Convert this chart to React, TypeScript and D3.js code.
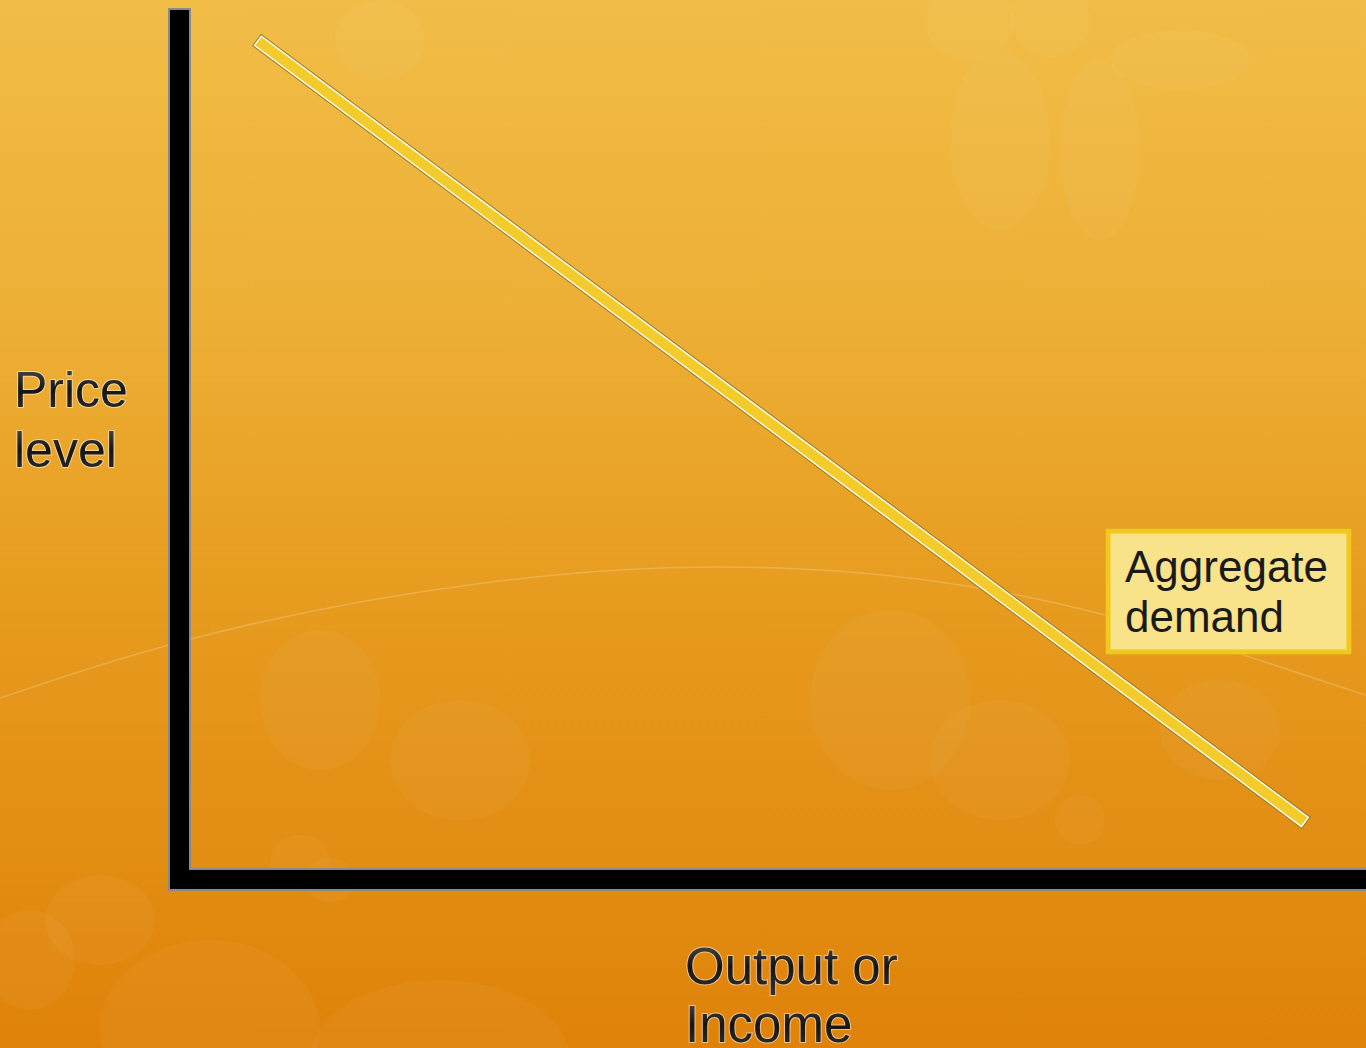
import React from "react";
import * as d3 from "d3";

// Aggregate demand curve: output (q) against price level (p), in axis units 0–10
const adQuantity = [0.7, 9.45];
const adPrice = [9.6, 0.7];

const yAxisLabel = ["Price", "level"];
const xAxisLabel = ["Output or", "Income"];
const curveLabel = ["Aggregate", "demand"];

const W = 1366;
const H = 1048;
const originX = 179.5;
const originY = 879.5;

// Faint decorative petals in the slide background
const petals = [
  { cx: 380, cy: 40, rx: 45, ry: 40 },
  { cx: 970, cy: 20, rx: 45, ry: 40 },
  { cx: 1050, cy: 20, rx: 40, ry: 38 },
  { cx: 1180, cy: 60, rx: 70, ry: 30 },
  { cx: 1000, cy: 140, rx: 50, ry: 90 },
  { cx: 1100, cy: 150, rx: 40, ry: 90 },
  { cx: 30, cy: 960, rx: 45, ry: 50 },
  { cx: 100, cy: 920, rx: 55, ry: 45 },
  { cx: 210, cy: 1030, rx: 110, ry: 90 },
  { cx: 440, cy: 1060, rx: 130, ry: 80 },
  { cx: 300, cy: 860, rx: 30, ry: 25 },
  { cx: 330, cy: 880, rx: 25, ry: 22 },
  { cx: 890, cy: 700, rx: 80, ry: 90 },
  { cx: 1000, cy: 760, rx: 70, ry: 60 },
  { cx: 320, cy: 700, rx: 60, ry: 70 },
  { cx: 460, cy: 760, rx: 70, ry: 60 },
  { cx: 1080, cy: 820, rx: 25, ry: 25 },
  { cx: 1220, cy: 730, rx: 60, ry: 50 },
];

export default function App() {
  const x = d3.scaleLinear().domain([0, 10]).range([originX, originX + 1186]);
  const y = d3.scaleLinear().domain([0, 10]).range([originY, originY - 870]);

  const pts: [number, number][] = adQuantity.map((q, i) => [x(q), y(adPrice[i])]);
  const adPath = d3.line()(pts) as string;

  const axisPath = `M${originX},8 L${originX},${originY} L${W + 20},${originY}`;

  const arc = d3.line().curve(d3.curveBasis)([
    [-20, 705],
    [200, 630],
    [500, 575],
    [760, 560],
    [1050, 590],
    [1380, 700],
  ]) as string;

  const labelText = {
    fontFamily: "'Liberation Sans', Arial, sans-serif",
    fill: "url(#metal)",
    stroke: "rgba(255,255,255,0.5)",
    strokeWidth: 2,
    paintOrder: "stroke",
  } as React.CSSProperties;

  return (
    <svg
      width={W}
      height={H}
      style={{ position: "absolute", left: 0, top: 0, display: "block" }}
    >
      <defs>
        <linearGradient id="bg" x1="0" y1="0" x2="0" y2="1">
          <stop offset="0" stopColor="#f1bd47" />
          <stop offset="0.3" stopColor="#edaf36" />
          <stop offset="0.55" stopColor="#e79d20" />
          <stop offset="1" stopColor="#df820a" />
        </linearGradient>
        <linearGradient id="metal" x1="0" y1="0" x2="0" y2="1">
          <stop offset="0" stopColor="#555" />
          <stop offset="0.5" stopColor="#151515" />
          <stop offset="1" stopColor="#333" />
        </linearGradient>
      </defs>

      <rect x={0} y={0} width={W} height={H} fill="url(#bg)" />
      {petals.map((p, i) => (
        <ellipse key={i} cx={p.cx} cy={p.cy} rx={p.rx} ry={p.ry} fill="#fff" opacity={0.035} />
      ))}
      <path d={arc} fill="none" stroke="#fff" strokeOpacity={0.2} strokeWidth={1.5} />

      {/* axes */}
      <path d={axisPath} fill="none" stroke="#8a8a8a" strokeWidth={23} strokeLinejoin="miter" />
      <path
        d={`M${originX},10 L${originX},${originY} L${W + 20},${originY}`}
        fill="none"
        stroke="#000"
        strokeWidth={19}
        strokeLinejoin="miter"
      />

      {/* aggregate demand curve */}
      <path d={adPath} fill="none" stroke="#9a7a2a" strokeWidth={15} strokeLinecap="square" />
      <path d={adPath} fill="none" stroke="#fffbe6" strokeWidth={13} strokeLinecap="square" />
      <path d={adPath} fill="none" stroke="#f3cb2a" strokeWidth={10} strokeLinecap="square" />

      {/* axis titles */}
      <g style={labelText} fontSize={50}>
        {yAxisLabel.map((t, i) => (
          <text key={t} x={14} y={407 + i * 60}>
            {t}
          </text>
        ))}
      </g>
      <g style={labelText} fontSize={51}>
        {xAxisLabel.map((t, i) => (
          <text key={t} x={685} y={984 + i * 58}>
            {t}
          </text>
        ))}
      </g>

      {/* curve label box */}
      <rect x={1105.5} y={528.5} width={246} height={126} fill="#b08a30" />
      <rect x={1108} y={531} width={241} height={121} fill="#f8e28a" stroke="#f2c81e" strokeWidth={5} />
      <g fontFamily="'Liberation Sans', Arial, sans-serif" fontSize={44} fill="#1a1a1a">
        {curveLabel.map((t, i) => (
          <text key={t} x={1125} y={582 + i * 50}>
            {t}
          </text>
        ))}
      </g>
    </svg>
  );
}
